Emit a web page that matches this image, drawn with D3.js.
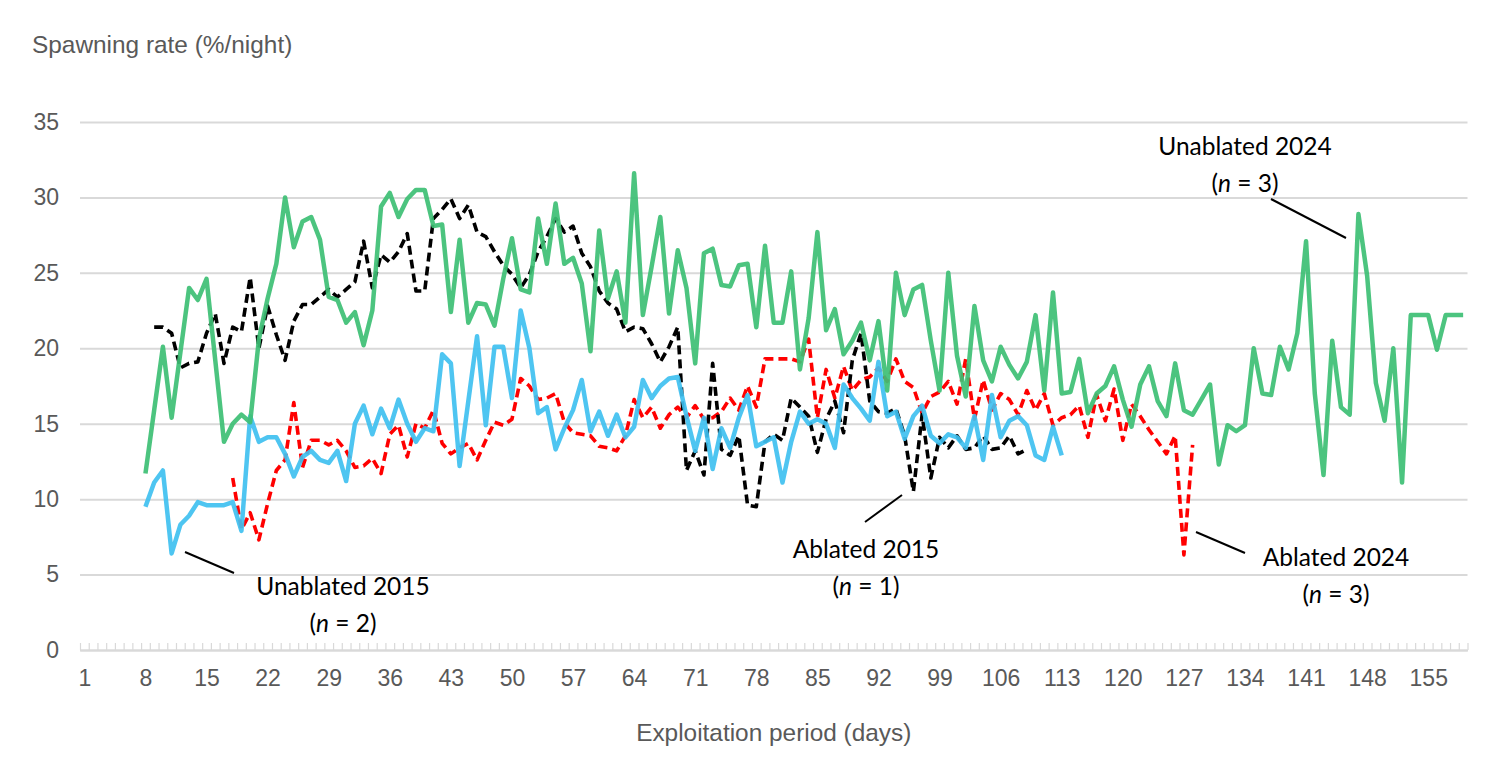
<!DOCTYPE html>
<html>
<head>
<meta charset="utf-8">
<script src="https://cdn.jsdelivr.net/npm/d3@7"></script>
<style>
  body { margin: 0; background: #fff; }
  .tick text { fill: #595959; font-family: "Liberation Sans", Arial, sans-serif; font-size: 23px; }
</style>
</head>
<body>
<div id="chart"></div>
<script>
// day labels shown on the x axis
const dayLabels = [1, 8, 15, 22, 29, 36, 43, 50, 57, 64, 71, 78, 85, 92, 99, 106, 113, 120, 127, 134, 141, 148, 155];
const lastDay = 159;
const yTicks = [0, 5, 10, 15, 20, 25, 30, 35];

// Unablated 2024 (n = 3), from day 8
const unablated2024Start = 8;
const unablated2024 = [11.7, 15.9, 20.1, 15.4, 19.7, 24.0, 23.2, 24.6, 19.2, 13.8,
  15.0, 15.6, 15.1, 20.6, 23.3, 25.6, 30.0, 26.7, 28.4, 28.7,
  27.2, 23.4, 23.2, 21.7, 22.4, 20.2, 22.5, 29.4, 30.3, 28.7,
  29.9, 30.5, 30.5, 28.1, 28.2, 22.4, 27.2, 21.7, 23.0, 22.9,
  21.5, 24.6, 27.3, 23.9, 23.7, 28.6, 25.6, 29.6, 25.6, 26.0,
  24.3, 19.8, 27.8, 23.3, 25.1, 21.7, 31.6, 22.2, 25.4, 28.7,
  22.3, 26.5, 24.0, 19.0, 26.3, 26.6, 24.2, 24.1, 25.5, 25.6,
  21.4, 26.8, 21.7, 21.7, 25.1, 18.6, 22.0, 27.7, 21.2, 22.6,
  19.6, 20.5, 21.7, 19.2, 21.8, 17.2, 25.0, 22.2, 23.9, 24.2,
  20.5, 17.2, 25.0, 19.5, 16.8, 22.8, 19.2, 17.8, 20.1, 18.9,
  18.0, 19.1, 22.2, 17.2, 23.7, 17.0, 17.1, 19.3, 15.7, 17.0,
  17.5, 18.8, 16.6, 14.8, 17.6, 18.8, 16.5, 15.5, 19.0, 15.9,
  15.6, 16.6, 17.6, 12.3, 14.9, 14.5, 14.9, 20.0, 17.0, 16.9,
  20.1, 18.6, 21.0, 27.1, 17.0, 11.6, 20.5, 16.1, 15.6, 28.9,
  24.8, 17.7, 15.2, 20.0, 11.1, 22.2, 22.2, 22.2, 19.9, 22.2,
  22.2, 22.2];

// Unablated 2015 (n = 2), from day 8
const unablated2015Start = 8;
const unablated2015 = [9.5, 11.1, 11.9, 6.4, 8.3, 8.9, 9.8, 9.6, 9.6, 9.6,
  9.8, 7.9, 15.5, 13.8, 14.1, 14.1, 13.0, 11.5, 12.8, 13.2,
  12.6, 12.4, 13.2, 11.2, 15.0, 16.2, 14.3, 16.0, 14.7, 16.6,
  15.0, 13.8, 14.7, 14.5, 19.6, 19.0, 12.2, 16.5, 20.8, 14.9,
  20.1, 20.1, 16.7, 22.5, 20.0, 15.7, 16.1, 13.3, 14.7, 15.9,
  17.9, 14.5, 15.8, 14.2, 15.6, 14.1, 14.8, 17.9, 16.7, 17.5,
  18.0, 18.1, 15.5, 13.2, 15.4, 12.0, 14.7, 13.4, 15.4, 16.9,
  13.5, 13.8, 14.1, 11.1, 13.8, 15.8, 15.0, 15.3, 15.0, 13.4,
  17.6, 16.7, 16.0, 15.2, 19.1, 15.5, 15.8, 14.0, 15.5, 16.2,
  14.2, 13.7, 14.3, 14.1, 13.4, 15.5, 12.6, 16.9, 14.1, 15.2,
  15.5, 14.9, 12.9, 12.6, 14.8, 12.9];

// Ablated 2015 (n = 1), from day 9
const ablated2015Start = 9;
const ablated2015 = [21.4, 21.4, 21.0, 18.7, 19.0, 19.1, 21.0, 22.3, 19.0, 21.4,
  21.1, 24.7, 20.0, 22.8, 20.9, 19.2, 21.8, 22.9, 22.9, 23.4,
  23.9, 23.4, 23.9, 24.4, 27.1, 24.0, 26.2, 25.7, 26.4, 27.6,
  23.8, 23.8, 28.6, 29.2, 29.9, 28.6, 29.5, 27.7, 27.4, 26.4,
  25.5, 24.9, 24.0, 24.9, 26.4, 27.4, 28.6, 27.7, 28.1, 26.3,
  25.4, 23.8, 23.0, 22.6, 21.1, 21.4, 21.3, 20.3, 19.1, 20.1,
  21.4, 11.9, 13.2, 11.6, 19.0, 13.3, 12.9, 14.2, 9.6, 9.5,
  13.8, 14.3, 13.9, 16.7, 16.1, 15.5, 13.1, 15.3, 16.5, 14.4,
  19.2, 21.0, 16.5, 15.8, 15.7, 16.0, 14.2, 10.5, 15.6, 11.4,
  14.1, 13.4, 14.2, 13.3, 13.4, 14.2, 13.3, 13.4, 14.2, 13.0,
  13.3];

// Ablated 2024 (n = 3), from day 18
const ablated2024Start = 18;
const ablated2024 = [11.4, 8.0, 9.1, 7.3, 9.7, 11.9, 12.6, 16.4, 12.1, 13.9,
  13.9, 13.6, 13.9, 13.2, 12.1, 12.2, 12.7, 11.7, 14.3, 14.9,
  12.8, 15.0, 14.7, 15.9, 13.7, 13.0, 13.4, 13.7, 12.6, 13.9,
  15.1, 14.9, 15.3, 18.0, 17.5, 16.6, 16.7, 17.0, 15.1, 14.4,
  14.3, 14.2, 13.5, 13.4, 13.2, 14.2, 16.6, 15.4, 16.1, 14.7,
  15.6, 16.1, 15.4, 16.2, 15.3, 15.4, 15.8, 16.7, 15.9, 17.5,
  16.1, 19.3, 19.3, 19.3, 19.3, 19.1, 20.6, 15.4, 18.6, 16.7,
  18.8, 17.2, 17.9, 18.1, 18.7, 17.8, 19.3, 17.8, 17.4, 15.7,
  16.8, 17.1, 17.8, 16.3, 19.3, 15.3, 17.9, 15.9, 17.0, 16.6,
  15.6, 17.2, 15.9, 17.0, 14.9, 15.4, 15.6, 16.2, 14.1, 16.9,
  15.2, 17.3, 13.9, 16.3, 15.5, 14.6, 13.8, 13.0, 14.2, 6.3,
  13.6];

// set the dimensions of the plot
const width = 1500, height = 764;
const plot = { left: 80, right: 1467.5, top: 122, bottom: 650 };

const svg = d3.select("#chart")
  .append("svg")
  .attr("width", width)
  .attr("height", height);

const x = d3.scaleLinear()
  .domain([0.5, lastDay + 0.5])
  .range([plot.left, plot.right]);

const y = d3.scaleLinear()
  .domain([0, 35])
  .range([plot.bottom, plot.top]);

// gridlines + y labels
const yAxis = svg.append("g")
  .attr("transform", `translate(${plot.left},0)`)
  .call(d3.axisLeft(y).tickValues(yTicks).tickSize(-(plot.right - plot.left)).tickPadding(21));
yAxis.select(".domain").remove();
yAxis.selectAll(".tick line").attr("stroke", "#d9d9d9").attr("stroke-width", 2);

// small tick marks between days, pointing up
const boundaries = d3.range(0.5, lastDay + 1, 1);
svg.append("g")
  .attr("transform", `translate(0,${plot.bottom})`)
  .call(d3.axisBottom(x).tickValues(boundaries).tickSize(-7).tickFormat("").tickSizeOuter(0))
  .call(g => g.select(".domain").attr("stroke", "#d9d9d9").attr("stroke-width", 2))
  .call(g => g.selectAll(".tick line").attr("stroke", "#d9d9d9").attr("stroke-width", 1.2));

// x labels
const xAxis = svg.append("g")
  .attr("transform", `translate(0,${plot.bottom})`)
  .call(d3.axisBottom(x).tickValues(dayLabels).tickSize(0).tickPadding(20));
xAxis.select(".domain").remove();

// axis titles
svg.append("text")
  .attr("x", 32).attr("y", 53)
  .attr("fill", "#595959")
  .style("font-family", "'Liberation Sans', Arial, sans-serif")
  .style("font-size", "24.4px")
  .text("Spawning rate (%/night)");

svg.append("text")
  .attr("x", (plot.left + plot.right) / 2).attr("y", 741)
  .attr("text-anchor", "middle")
  .attr("fill", "#595959")
  .style("font-family", "'Liberation Sans', Arial, sans-serif")
  .style("font-size", "24.4px")
  .text("Exploitation period (days)");

// lines
const line = d3.line()
  .x(d => x(d.day))
  .y(d => y(d.value));

function toPoints(values, start) {
  return values.map((v, i) => ({ day: start + i, value: v }));
}

const series = [
  { values: ablated2024, start: ablated2024Start, color: "#ff0000", width: 3.6, dash: "9,5", opacity: 1 },
  { values: ablated2015, start: ablated2015Start, color: "#000000", width: 3.6, dash: "9,5", opacity: 1 },
  { values: unablated2015, start: unablated2015Start, color: "#3fc0f0", width: 4.5, dash: null, opacity: 0.92 },
  { values: unablated2024, start: unablated2024Start, color: "#3dbf74", width: 4.5, dash: null, opacity: 0.92 }
];

svg.selectAll("path.series")
  .data(series)
  .join("path")
  .attr("class", "series")
  .attr("fill", "none")
  .attr("stroke", d => d.color)
  .attr("stroke-width", d => d.width)
  .attr("stroke-dasharray", d => d.dash)
  .attr("stroke-opacity", d => d.opacity)
  .attr("stroke-linejoin", "round")
  .attr("d", d => line(toPoints(d.values, d.start)));

// annotations
const notes = [
  { name: "Unablated 2015", n: "2", cx: 343, y: 595, from: [185, 552], to: [234, 573] },
  { name: "Ablated 2015", n: "1", cx: 866, y: 558, from: [865, 522], to: [902, 495] },
  { name: "Ablated 2024", n: "3", cx: 1336, y: 566, from: [1196, 532], to: [1245, 553] },
  { name: "Unablated 2024", n: "3", cx: 1245, y: 155, from: [1271, 199], to: [1346, 238] }
];

const note = svg.selectAll("g.note")
  .data(notes)
  .join("g")
  .attr("class", "note")
  .style("font-family", "Lato, 'Noto Sans', sans-serif")
  .style("font-size", "24.5px")
  .attr("fill", "#000");

note.append("line")
  .attr("x1", d => d.from[0]).attr("y1", d => d.from[1])
  .attr("x2", d => d.to[0]).attr("y2", d => d.to[1])
  .attr("stroke", "#000")
  .attr("stroke-width", 2);

note.append("text")
  .attr("x", d => d.cx).attr("y", d => d.y)
  .attr("text-anchor", "middle")
  .text(d => d.name);

const nText = note.append("text")
  .attr("x", d => d.cx).attr("y", d => d.y + 37)
  .attr("text-anchor", "middle");
nText.append("tspan").text("(");
nText.append("tspan").style("font-style", "italic").text("n");
nText.append("tspan").text(d => " = " + d.n + ")");
</script>
</body>
</html>
